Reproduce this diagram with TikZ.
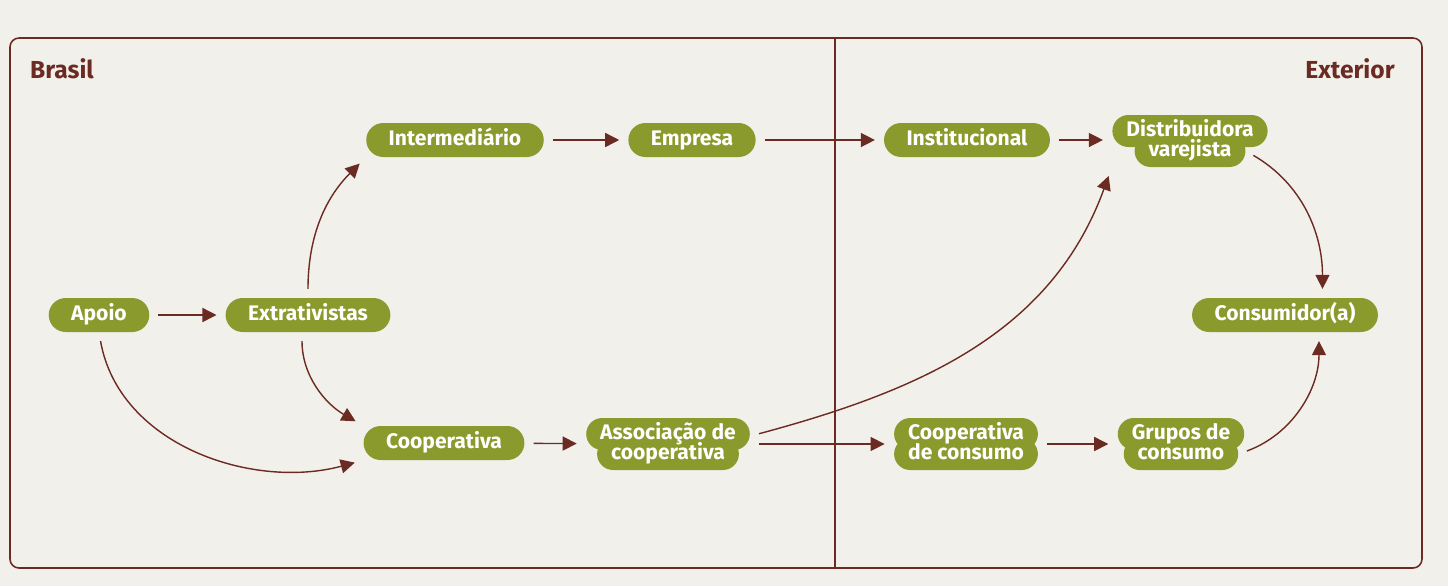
\documentclass[tikz,border=0pt]{standalone}
\usepackage{fontspec}
\setmainfont{Fira Sans}
\usepackage{tikz}
\usetikzlibrary{arrows.meta,fit}
\definecolor{paper}{HTML}{F2F0EB}
\definecolor{oliva}{HTML}{8A9A2C}
\definecolor{marrom}{HTML}{6B2A22}
\def\bx{\bfseries\fontsize{12}{12}\selectfont}
% caixa de duas linhas: uma pilula por linha, texto por cima
\def\duplo#1#2#3#4{
	\node[elo, rounded corners=0.32cm, minimum height=0.64cm, inner xsep=0.28cm] (#1-a) at ([yshift=0.2cm]#2) {\phantom{#3}};
	\node[elo, rounded corners=0.32cm, minimum height=0.64cm, inner xsep=0.28cm] (#1-b) at ([yshift=-0.2cm]#2) {\phantom{#4}};
	\node[elo, fill=none] (#1-ta) at (#1-a) {#3};
	\node[elo, fill=none] (#1-tb) at (#1-b) {#4};
	\node[fit=(#1-a)(#1-b), inner sep=0pt] (#1) {};
}

\begin{document}
\begin{tikzpicture}[x=0.02cm, y=-0.02cm,
    elo/.style={fill=oliva, text=white, font=\bx, rounded corners=0.34cm, minimum height=0.68cm, inner xsep=0.45cm, inner ysep=0pt, text height=0.76em, text depth=0.18em},
    rotulo/.style={text=marrom, font=\bfseries\fontsize{14}{14}\selectfont},
    seta/.style={draw=marrom, line width=0.8pt, -{Triangle[length=8pt, width=8pt]}, shorten <=5pt, shorten >=5pt}]
	\useasboundingbox[fill=paper] (0,0) rectangle (1448,586);
	\draw[marrom, line width=0.9pt, rounded corners=0.18cm] (10,38) rectangle (1422,568);
	\draw[marrom, line width=0.9pt] (835,38) -- (835,568);
	\node[rotulo] (brasil) at (62,69) {Brasil};
	\node[rotulo] (exterior) at (1350,69) {Exterior};
	% Brasil
	\node[elo] (apoio) at (99,315) {Apoio};
	\node[elo] (extrat) at (308,315) {Extrativistas};
	\node[elo] (interm) at (455,140) {Intermediário};
	\node[elo] (empresa) at (692,140) {Empresa};
	\node[elo] (coop) at (444,443) {Cooperativa};
	\duplo{assoc}{668,444}{Associação de}{cooperativa}
	% Exterior
	\node[elo] (instit) at (967,140) {Institucional};
	\duplo{distrib}{1190,141}{Distribuidora}{varejista}
	\node[elo] (consum) at (1285,315) {Consumidor(a)};
	\duplo{coopcons}{966,444}{Cooperativa}{de consumo}
	\duplo{grupos}{1181,444}{Grupos de}{consumo}
	% fluxos
	\draw[seta] (apoio) -- (extrat);
	\draw[seta] (extrat.north) to[out=90, in=225] (interm.south west);
	\draw[seta] ([xshift=-0.12cm]extrat.south) to[out=-90, in=150] (coop.north west);
	\draw[seta] (apoio.south) to[out=-80, in=195] (coop.south west);
	\draw[seta] (interm) -- (empresa);
	\draw[seta] (empresa) -- (instit);
	\draw[seta] (instit) -- (distrib.west |- instit);
	\draw[seta] (coop) -- (assoc);
	\draw[seta] ([yshift=0.16cm]assoc.east) to[out=15, in=-110] (distrib.south west);
	\draw[seta] (assoc.east) -- (coopcons.west);
	\draw[seta] (coopcons) -- (grupos);
	\draw[seta] (distrib-b.east) to[out=-30, in=90] ([xshift=0.75cm]consum.north);
	\draw[seta] (grupos-b.east) to[out=20, in=-90] ([xshift=0.68cm]consum.south);
\end{tikzpicture}
\end{document}
